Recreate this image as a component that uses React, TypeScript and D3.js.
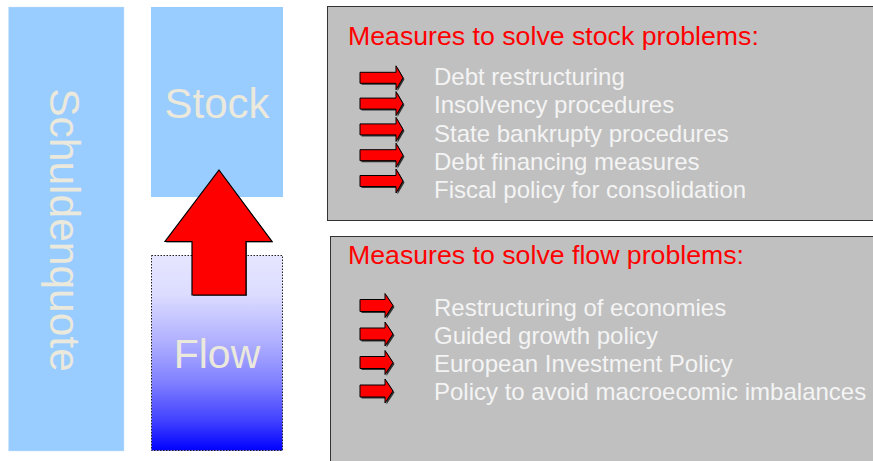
import React from "react";
import * as d3 from "d3";

const sideLabel = "Schuldenquote";
const stockLabel = "Stock";
const flowLabel = "Flow";
const stockTitle = "Measures to solve stock problems:";
const flowTitle = "Measures to solve flow problems:";
const stockMeasures = [
  "Debt restructuring",
  "Insolvency procedures",
  "State bankrupty procedures",
  "Debt financing measures",
  "Fiscal policy for consolidation",
];
const flowMeasures = [
  "Restructuring of economies",
  "Guided growth policy",
  "European Investment Policy",
  "Policy to avoid macroecomic imbalances",
];

const W = 873;
const H = 461;
const FONT = "'Liberation Sans', Arial, Helvetica, sans-serif";

function SmallArrow({ x0, x1, tip, cy, shaftH, headH }: any) {
  const p = d3.path();
  p.moveTo(x0, cy - shaftH / 2);
  p.lineTo(x1, cy - shaftH / 2);
  p.lineTo(x1, cy - headH / 2);
  p.lineTo(tip, cy);
  p.lineTo(x1, cy + headH / 2);
  p.lineTo(x1, cy + shaftH / 2);
  p.lineTo(x0, cy + shaftH / 2);
  p.closePath();
  const d = p.toString();
  return (
    <g>
      <path d={d} transform="translate(1.5,1.5)" fill="#333" />
      <path d={d} fill="#ff0000" stroke="#000" strokeWidth={1} />
    </g>
  );
}

export default function App() {
  const stockTextY = d3.scaleLinear().domain([0, 1]).range([85, 113.3]);
  const stockArrowY = d3.scaleLinear().domain([0, 1]).range([77.8, 103.6]);
  const flowTextY = d3.scaleLinear().domain([0, 1]).range([315.5, 343.8]);
  const flowArrowY = d3.scaleLinear().domain([0, 1]).range([305.5, 334]);

  const big = d3.path();
  big.moveTo(219, 170);
  big.lineTo(272, 241.5);
  big.lineTo(246, 241.5);
  big.lineTo(246, 295);
  big.lineTo(192, 295);
  big.lineTo(192, 241.5);
  big.lineTo(165, 241.5);
  big.closePath();

  return (
    <svg
      width={W}
      height={H}
      viewBox={`0 0 ${W} ${H}`}
      style={{ position: "absolute", left: 0, top: 0, background: "#fff" }}
      fontFamily={FONT}
    >
      <defs>
        <linearGradient id="flowGrad" x1="0" y1="0" x2="0" y2="1">
          <stop offset="0" stopColor="#e6e6ff" />
          <stop offset="0.2" stopColor="#dcdcff" />
          <stop offset="0.45" stopColor="#aeaeff" />
          <stop offset="0.65" stopColor="#8080ff" />
          <stop offset="0.85" stopColor="#4040ff" />
          <stop offset="1" stopColor="#0000ff" />
        </linearGradient>
      </defs>

      {/* Left Schuldenquote bar */}
      <rect x={8.5} y={7} width={115.5} height={444} fill="#99ccff" stroke="#cfe3f5" strokeWidth={0.8} strokeDasharray="1,1" />
      <text
        transform="translate(50,230) rotate(90)"
        textAnchor="middle"
        fontSize={42.5}
        fill="#ebe8dc"
      >
        {sideLabel}
      </text>

      {/* Stock box */}
      <rect x={151} y={7} width={132} height={190} fill="#99ccff" />
      <text x={217} y={118} textAnchor="middle" fontSize={42} fill="#ebe8dc">
        {stockLabel}
      </text>

      {/* Flow box */}
      <rect x={151.5} y={255.5} width={131} height={195} fill="url(#flowGrad)" stroke="#222" strokeWidth={1} strokeDasharray="1.5,1.5" />
      <text x={217} y={368} textAnchor="middle" fontSize={41} fill="#ebe8dc">
        {flowLabel}
      </text>

      {/* Big red arrow */}
      <path d={big.toString()} transform="translate(1,1)" fill="#555" />
      <path d={big.toString()} fill="#ff0000" stroke="#000" strokeWidth={1.2} />

      {/* Stock measures box */}
      <rect x={327.5} y={6.5} width={560} height={214} fill="#c0c0c0" stroke="#333" strokeWidth={1} />
      <text x={348} y={45} fontSize={26.7} fill="#ff0000">
        {stockTitle}
      </text>
      {stockMeasures.map((m, i) => (
        <g key={m}>
          <SmallArrow x0={360} x1={396} tip={403} cy={stockArrowY(i)} shaftH={11} headH={24} />
          <text x={434} y={stockTextY(i)} fontSize={24} fill="#f4f4f4">
            {m}
          </text>
        </g>
      ))}

      {/* Flow measures box */}
      <rect x={330.5} y={236.5} width={560} height={240} fill="#c0c0c0" stroke="#333" strokeWidth={1} />
      <text x={348} y={264} fontSize={26.7} fill="#ff0000">
        {flowTitle}
      </text>
      {flowMeasures.map((m, i) => (
        <g key={m}>
          <SmallArrow x0={360} x1={385} tip={393} cy={flowArrowY(i)} shaftH={12} headH={24} />
          <text x={434} y={flowTextY(i)} fontSize={24} fill="#f4f4f4">
            {m}
          </text>
        </g>
      ))}
    </svg>
  );
}
